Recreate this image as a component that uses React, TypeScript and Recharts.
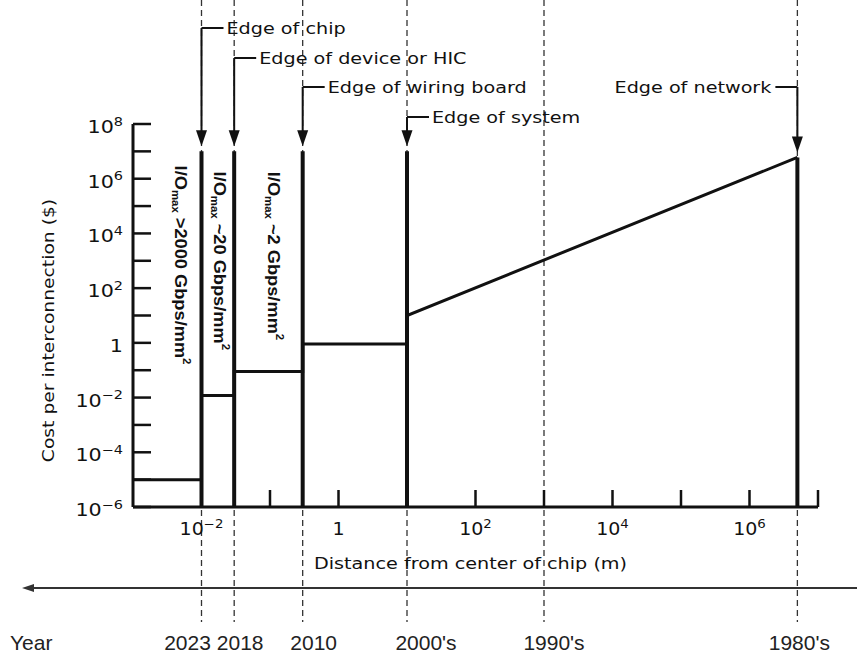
import { LineChart, Line, XAxis, YAxis, ReferenceLine, ReferenceDot, Label } from "recharts";

// cost per interconnection vs distance from chip centre (log-log)
const DIST = [1e-3, 1e-2, 1e-2, 0.03, 0.03, 0.3, 0.3, 10, 10, 5e6];
const COST = [1e-5, 1e-5, 0.012, 0.012, 0.09, 0.09, 0.9, 0.9, 10, 6e6];

const EDGE_X = [0.01, 0.03, 0.3, 10, 5e6];
const EDGE_TOP = [1e7, 1e7, 1e7, 1e7, 6e6];
const EDGE_NAMES = ["Edge of chip", "Edge of device or HIC", "Edge of wiring board", "Edge of system", "Edge of network"];

const YEAR_X = [0.01, 0.03, 0.3, 10, 1e3, 5e6];
const YEARS = ["2023", "2018", "2010", "2000's", "1990's", "1980's"];

const IO_VALUES = [">2000", "~20", "~2"];

const X_TICKS = [1e-2, 1e-1, 1, 10, 1e2, 1e3, 1e4, 1e5, 1e6, 1e7];
const Y_TICKS = [1e-6, 1e-5, 1e-4, 1e-3, 1e-2, 1e-1, 1, 10, 1e2, 1e3, 1e4, 1e5, 1e6, 1e7, 1e8];

// layout only
const LEADER_Y = [28, 58, 87, 117, 87];
const LEADER_LEFT = [false, false, false, false, true];
const YEAR_DX = [-14, 6, 11, 19, 10, 2];
const IO_POS = [
  { x: 0.0049, y: 700 },
  { x: 0.0186, y: 1000 },
  { x: 0.114, y: 1500 },
];

const FONT = "'DejaVu Sans', Verdana, sans-serif";
const ARIAL = "'Liberation Sans', Arial, sans-serif";
const INK = "#111";
const WIDE = 1.2; // the scanned lettering is wider than any installed face

const data = DIST.map((d, i) => ({ dist: d, cost: COST[i] }));

const expOf = (v: number) => Math.round(Math.log10(v));

// text stretched along its own direction, optionally rotated
function StretchText({ x, y, sx, rotate = 0, anchor = "start", size, family = FONT, weight, baseline, fill = INK, children }: any) {
  return (
    <text
      transform={`translate(${x},${y}) rotate(${rotate}) scale(${sx},1)`}
      x={0}
      y={0}
      textAnchor={anchor}
      dominantBaseline={baseline}
      fontSize={size}
      fontFamily={family}
      fontWeight={weight}
      fill={fill}
    >
      {children}
    </text>
  );
}

function PowLabel({ x, y, v, size, sx, anchor }: { x: number; y: number; v: number; size: number; sx: number; anchor: string }) {
  const e = expOf(v);
  return (
    <StretchText x={x} y={y} sx={sx} anchor={anchor} size={size}>
      {e === 0 ? "1" : "10"}
      {e !== 0 && (
        <tspan dy={-size * 0.42} fontSize={size * 0.7}>
          {e < 0 ? "\u2212" + -e : e}
        </tspan>
      )}
    </StretchText>
  );
}

const YTick = (props: any) => {
  const { x, y, payload } = props;
  const e = expOf(payload.value);
  return (
    <g>
      <line x1={x} x2={x + 18} y1={y} y2={y} stroke={INK} strokeWidth={2.5} />
      {e % 2 === 0 && <PowLabel x={x - 10} y={y + 9} v={payload.value} size={17.5} sx={1.18} anchor="end" />}
    </g>
  );
};

const XTick = (props: any) => {
  const { x, y, payload } = props;
  const e = expOf(payload.value);
  return (
    <g>
      <line x1={x} x2={x} y1={y} y2={y - 17} stroke={INK} strokeWidth={2.5} />
      {e % 2 === 0 && <PowLabel x={x} y={y + 28} v={payload.value} size={17} sx={1.12} anchor="middle" />}
    </g>
  );
};

const dashShape = (i: number) => (p: any) => {
  const x = p.x1;
  return (
    <g>
      <line x1={x} x2={x} y1={0} y2={622} stroke="#333" strokeWidth={1.3} strokeDasharray="6 4" />
      <text x={x + YEAR_DX[i]} y={650} textAnchor="middle" fontSize={21} fontFamily={ARIAL} fill="#222">
        {YEARS[i]}
      </text>
    </g>
  );
};

const edgeShape = (i: number) => (p: any) => {
  const x = p.x1;
  const top = Math.min(p.y1, p.y2);
  const bottom = Math.max(p.y1, p.y2);
  const tip = top - 5;
  const ly = LEADER_Y[i];
  const left = LEADER_LEFT[i];
  const lx = left ? x - 22 : x + 22;
  return (
    <g>
      <line x1={x} x2={x} y1={bottom} y2={top} stroke={INK} strokeWidth={4} />
      <line x1={x} x2={x} y1={ly} y2={tip - 10} stroke={INK} strokeWidth={2} />
      <path d={`M${x - 5.5},${tip - 16} L${x + 5.5},${tip - 16} L${x},${tip} Z`} fill={INK} />
      <line x1={x} x2={lx} y1={ly} y2={ly} stroke={INK} strokeWidth={2} />
      <StretchText x={left ? lx - 4 : lx + 3} y={ly + 6} sx={WIDE} anchor={left ? "end" : "start"} size={16}>
        {EDGE_NAMES[i]}
      </StretchText>
    </g>
  );
};

const ioShape = (i: number) => (p: any) => {
  const { cx, cy } = p;
  return (
    <StretchText x={cx} y={cy} rotate={90} sx={1.14} anchor="middle" baseline="central" size={16} weight="bold" family={ARIAL}>
      I/O
      <tspan fontSize={10} dy={5}>max</tspan>
      <tspan dy={-5}>{" " + IO_VALUES[i] + " Gbps/mm"}</tspan>
      <tspan fontSize={10} dy={-6}>2</tspan>
    </StretchText>
  );
};

export default function App() {
  return (
    <div style={{ position: "absolute", left: 0, top: 0, width: 857, height: 656, background: "#fff" }}>
      <LineChart width={857} height={656} data={data} margin={{ top: 124, right: 39, bottom: 109, left: 73 }}>
        <XAxis
          dataKey="dist"
          type="number"
          scale="log"
          domain={[1e-3, 1e7]}
          ticks={X_TICKS}
          interval={0}
          allowDataOverflow
          height={40}
          tickSize={0}
          tickMargin={0}
          tick={<XTick />}
          axisLine={{ stroke: INK, strokeWidth: 3 }}
        >
          <Label
            content={(props: any) => {
              const vb = props.viewBox;
              return (
                <StretchText x={vb.x + vb.width / 2 - 5} y={vb.y + 62} sx={WIDE} anchor="middle" size={16}>
                  Distance from center of chip (m)
                </StretchText>
              );
            }}
          />
        </XAxis>
        <YAxis
          type="number"
          scale="log"
          domain={[1e-6, 1e8]}
          ticks={Y_TICKS}
          interval={0}
          allowDataOverflow
          width={60}
          tickSize={0}
          tickMargin={0}
          tick={<YTick />}
          axisLine={{ stroke: INK, strokeWidth: 3 }}
        >
          <Label
            content={(props: any) => {
              const vb = props.viewBox;
              return (
                <StretchText
                  x={vb.x - 25}
                  y={vb.y + vb.height / 2 + 15}
                  rotate={-90}
                  sx={1.17}
                  anchor="middle"
                  baseline="central"
                  size={16}
                >
                  Cost per interconnection ($)
                </StretchText>
              );
            }}
          />
        </YAxis>
        {YEAR_X.map((v, i) => (
          <ReferenceLine key={"d" + i} x={v} ifOverflow="visible" shape={dashShape(i)} />
        ))}
        {EDGE_X.map((v, i) => (
          <ReferenceLine
            key={"e" + i}
            segment={[
              { x: v, y: 1e-6 },
              { x: v, y: EDGE_TOP[i] },
            ]}
            ifOverflow="visible"
            shape={edgeShape(i)}
          />
        ))}
        {IO_POS.map((pos, i) => (
          <ReferenceDot key={"io" + i} x={pos.x} y={pos.y} r={0} ifOverflow="visible" shape={ioShape(i)} />
        ))}
        <Line
          dataKey="cost"
          type="linear"
          stroke={INK}
          strokeWidth={3}
          dot={false}
          isAnimationActive={false}
        />
      </LineChart>
      <svg width={857} height={656} style={{ position: "absolute", left: 0, top: 0, pointerEvents: "none" }}>
        <line x1={30} x2={857} y1={588} y2={588} stroke="#333" strokeWidth={2} />
        <path d="M22,588 L34,584 L34,592 Z" fill="#333" />
        <text x={10} y={650} fontSize={21} fontFamily={ARIAL} fill="#222">Year</text>
      </svg>
    </div>
  );
}
